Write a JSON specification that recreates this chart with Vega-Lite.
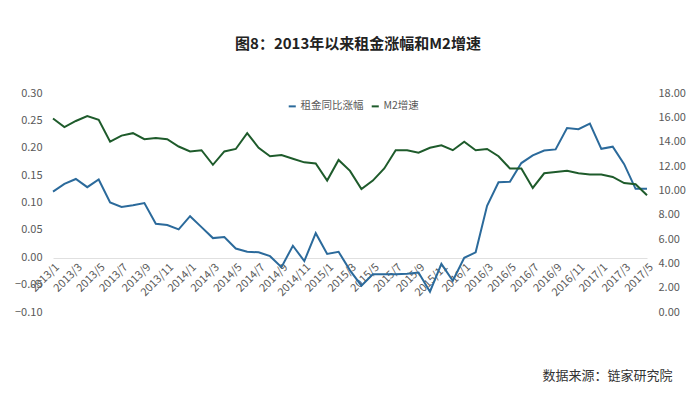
{
  "$schema": "https://vega.github.io/schema/vega-lite/v6.json",
  "width": 594,
  "height": 219,
  "autosize": {"type": "none"},
  "padding": {"left": 53, "top": 93, "right": 53, "bottom": 82},
  "background": "white",
  "config": {"view": {"stroke": null}, "font": "Noto Sans CJK SC"},
  "title": {
    "text": "图8：2013年以来租金涨幅和M2增速",
    "fontSize": 15,
    "fontWeight": "bold",
    "color": "#222222",
    "anchor": "middle",
    "offset": 35,
    "dx": 8
  },
  "data": {
    "values": [
      {"month": "2013/1", "rent": 0.120, "m2": 15.9},
      {"month": "2013/2", "rent": 0.134, "m2": 15.2},
      {"month": "2013/3", "rent": 0.143, "m2": 15.7},
      {"month": "2013/4", "rent": 0.128, "m2": 16.1},
      {"month": "2013/5", "rent": 0.142, "m2": 15.8},
      {"month": "2013/6", "rent": 0.100, "m2": 14.0},
      {"month": "2013/7", "rent": 0.092, "m2": 14.5},
      {"month": "2013/8", "rent": 0.095, "m2": 14.7},
      {"month": "2013/9", "rent": 0.099, "m2": 14.2},
      {"month": "2013/10", "rent": 0.061, "m2": 14.3},
      {"month": "2013/11", "rent": 0.059, "m2": 14.2},
      {"month": "2013/12", "rent": 0.051, "m2": 13.6},
      {"month": "2014/1", "rent": 0.075, "m2": 13.2},
      {"month": "2014/2", "rent": 0.055, "m2": 13.3},
      {"month": "2014/3", "rent": 0.035, "m2": 12.1},
      {"month": "2014/4", "rent": 0.037, "m2": 13.2},
      {"month": "2014/5", "rent": 0.016, "m2": 13.4},
      {"month": "2014/6", "rent": 0.010, "m2": 14.7},
      {"month": "2014/7", "rent": 0.009, "m2": 13.5},
      {"month": "2014/8", "rent": 0.002, "m2": 12.8},
      {"month": "2014/9", "rent": -0.018, "m2": 12.9},
      {"month": "2014/10", "rent": 0.021, "m2": 12.6},
      {"month": "2014/11", "rent": -0.007, "m2": 12.3},
      {"month": "2014/12", "rent": 0.044, "m2": 12.2},
      {"month": "2015/1", "rent": 0.006, "m2": 10.8},
      {"month": "2015/2", "rent": 0.010, "m2": 12.5},
      {"month": "2015/3", "rent": -0.024, "m2": 11.6},
      {"month": "2015/4", "rent": -0.052, "m2": 10.1},
      {"month": "2015/5", "rent": -0.031, "m2": 10.8},
      {"month": "2015/6", "rent": -0.031, "m2": 11.8},
      {"month": "2015/7", "rent": -0.031, "m2": 13.3},
      {"month": "2015/8", "rent": -0.030, "m2": 13.3},
      {"month": "2015/9", "rent": -0.028, "m2": 13.1},
      {"month": "2015/10", "rent": -0.063, "m2": 13.5},
      {"month": "2015/11", "rent": -0.012, "m2": 13.7},
      {"month": "2015/12", "rent": -0.043, "m2": 13.3},
      {"month": "2016/1", "rent": -0.001, "m2": 14.0},
      {"month": "2016/2", "rent": 0.009, "m2": 13.3},
      {"month": "2016/3", "rent": 0.094, "m2": 13.4},
      {"month": "2016/4", "rent": 0.137, "m2": 12.8},
      {"month": "2016/5", "rent": 0.138, "m2": 11.8},
      {"month": "2016/6", "rent": 0.172, "m2": 11.8},
      {"month": "2016/7", "rent": 0.186, "m2": 10.2},
      {"month": "2016/8", "rent": 0.195, "m2": 11.4},
      {"month": "2016/9", "rent": 0.197, "m2": 11.5},
      {"month": "2016/10", "rent": 0.236, "m2": 11.6},
      {"month": "2016/11", "rent": 0.234, "m2": 11.4},
      {"month": "2016/12", "rent": 0.244, "m2": 11.3},
      {"month": "2017/1", "rent": 0.198, "m2": 11.3},
      {"month": "2017/2", "rent": 0.202, "m2": 11.1},
      {"month": "2017/3", "rent": 0.170, "m2": 10.6},
      {"month": "2017/4", "rent": 0.125, "m2": 10.5},
      {"month": "2017/5", "rent": 0.125, "m2": 9.6}
    ]
  },
  "encoding": {
    "x": {
      "field": "month",
      "type": "ordinal",
      "sort": null,
      "scale": {"type": "point", "padding": 0},
      "axis": {
        "values": ["2013/1","2013/3","2013/5","2013/7","2013/9","2013/11","2014/1","2014/3","2014/5","2014/7","2014/9","2014/11","2015/1","2015/3","2015/5","2015/7","2015/9","2015/11","2016/1","2016/3","2016/5","2016/7","2016/9","2016/11","2017/1","2017/3","2017/5"],
        "labelAngle": -45,
        "labelFontSize": 11,
        "labelColor": "#595959",
        "labelPadding": 3,
        "ticks": false,
        "domainColor": "#e0e0e0",
        "domainWidth": 1,
        "offset": -54,
        "grid": false,
        "title": "数据来源：链家研究院",
        "titleFontSize": 13,
        "titleFontWeight": "normal",
        "titleColor": "#333333",
        "titleAlign": "right",
        "titleBaseline": "middle",
        "titleX": 619,
        "titleY": 117
      }
    }
  },
  "layer": [
    {
      "mark": {"type": "line", "strokeWidth": 2},
      "encoding": {
        "y": {
          "field": "rent",
          "type": "quantitative",
          "scale": {"domain": [-0.1, 0.3], "nice": false, "zero": false},
          "axis": {
            "orient": "left",
            "values": [-0.1, -0.05, 0, 0.05, 0.1, 0.15, 0.2, 0.25, 0.3],
            "format": ".2f",
            "title": null,
            "grid": false,
            "domain": false,
            "ticks": false,
            "labelPadding": 11,
            "labelFontSize": 11,
            "labelColor": "#595959"
          }
        },
        "color": {
          "datum": "租金同比涨幅",
          "type": "nominal",
          "scale": {"domain": ["租金同比涨幅", "M2增速"], "range": ["#2b6a9b", "#1e5b2b"]},
          "legend": {
            "title": null,
            "orient": "none",
            "direction": "horizontal",
            "legendX": 234,
            "legendY": 8,
            "symbolType": "stroke",
            "symbolSize": 50,
            "symbolStrokeWidth": 2,
            "labelFontSize": 10.5,
            "labelColor": "#595959",
            "labelOffset": 3,
            "columnPadding": 3
          }
        }
      }
    },
    {
      "mark": {"type": "line", "strokeWidth": 2},
      "encoding": {
        "y": {
          "field": "m2",
          "type": "quantitative",
          "scale": {"domain": [0, 18], "nice": false},
          "axis": {
            "orient": "right",
            "values": [0, 2, 4, 6, 8, 10, 12, 14, 16, 18],
            "format": ".2f",
            "title": null,
            "grid": false,
            "domain": false,
            "ticks": false,
            "labelPadding": 11,
            "labelFontSize": 11,
            "labelColor": "#595959"
          }
        },
        "color": {"datum": "M2增速", "type": "nominal"}
      }
    }
  ],
  "resolve": {"scale": {"y": "independent"}}
}
